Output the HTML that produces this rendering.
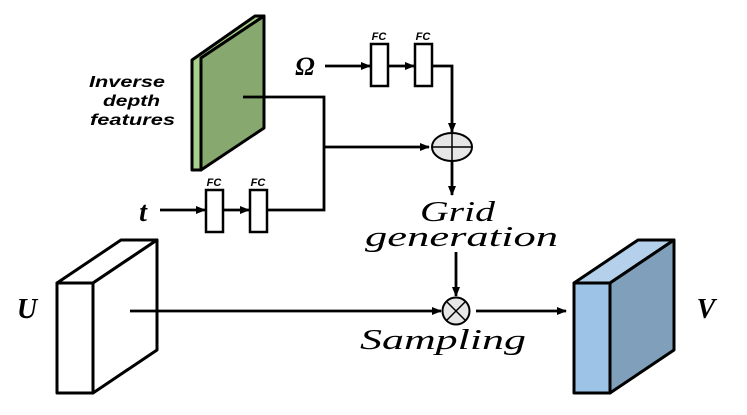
<!DOCTYPE html>
<html><head><style>body{margin:0;background:#fff}svg{display:block}</style></head><body>
<svg width="747" height="415" viewBox="0 0 747 415" xmlns="http://www.w3.org/2000/svg">
<defs><marker id="a" markerWidth="10" markerHeight="8" refX="9" refY="4" orient="auto" markerUnits="userSpaceOnUse"><path d="M0,0L10,4L0,8z" fill="#000"/></marker></defs>
<g stroke="#000" stroke-width="3" stroke-linejoin="round">
<polygon points="192,60 255,16 264,16 201,58 201,170 192,170" fill="#a9d18e"/>
<polygon points="201,58 264,16 264,128 201,170" fill="#87a96f"/>
<polygon points="57,283 121,240 157,240 93,283" fill="#fff"/>
<polygon points="93,283 157,240 157,350 93,393" fill="#fff"/>
<rect x="57" y="283" width="36" height="110" fill="#fff"/>
<polygon points="574,283 638,240 674,240 610,283" fill="#b4d0ea"/>
<polygon points="610,283 674,240 674,350 610,393" fill="#7f9fba"/>
<rect x="574" y="283" width="36" height="110" fill="#9dc3e6"/>
</g>
<g stroke="#000" stroke-width="2.5" fill="#fff">
<rect x="371" y="44" width="17" height="42"/><rect x="415" y="44" width="17" height="42"/>
<rect x="206" y="190" width="17" height="42"/><rect x="250" y="190" width="17" height="42"/>
</g>
<g stroke="#000" stroke-width="2.8" fill="none">
<polyline points="243,97 324,97 324,210 267,210"/>
<line x1="324" y1="147" x2="429" y2="147" marker-end="url(#a)"/>
<line x1="325" y1="66" x2="370" y2="66" marker-end="url(#a)"/>
<line x1="388" y1="66" x2="414" y2="66" marker-end="url(#a)"/>
<polyline points="432,66 452,66 452,132" marker-end="url(#a)"/>
<line x1="452" y1="161" x2="452" y2="195" marker-end="url(#a)"/>
<line x1="160" y1="210" x2="205" y2="210" marker-end="url(#a)"/>
<line x1="223" y1="210" x2="249" y2="210" marker-end="url(#a)"/>
<line x1="456" y1="252" x2="456" y2="296" marker-end="url(#a)"/>
<line x1="130" y1="311" x2="441" y2="311" marker-end="url(#a)"/>
<line x1="476" y1="311" x2="566" y2="311" marker-end="url(#a)"/>
</g>
<g stroke="#000" stroke-width="2" fill="#e6e6e6">
<ellipse cx="452" cy="147" rx="20" ry="14"/>
<circle cx="456" cy="311" r="13.5"/>
</g>
<g stroke="#000" stroke-width="1.5">
<line x1="432" y1="147" x2="472" y2="147"/><line x1="452" y1="133" x2="452" y2="161"/>
<line x1="446.5" y1="301.5" x2="465.5" y2="320.5"/><line x1="465.5" y1="301.5" x2="446.5" y2="320.5"/>
</g>
<g font-family="Liberation Sans, sans-serif" font-weight="bold" font-style="italic" text-anchor="middle">
<text x="379" y="40" font-size="11">FC</text><text x="423" y="40" font-size="11">FC</text>
<text x="214" y="186" font-size="11">FC</text><text x="258" y="186" font-size="11">FC</text>
</g>
<g font-family="Liberation Sans, sans-serif" font-weight="bold" font-style="italic" font-size="16" lengthAdjust="spacingAndGlyphs">
<text x="89" y="87" textLength="76" lengthAdjust="spacingAndGlyphs">Inverse</text>
<text x="103" y="106" textLength="57" lengthAdjust="spacingAndGlyphs">depth</text>
<text x="90" y="125" textLength="85" lengthAdjust="spacingAndGlyphs">features</text>
</g>
<g font-family="Liberation Serif, serif" font-weight="bold" font-style="italic" text-anchor="middle">
<text x="305" y="75" font-size="26">Ω</text>
<text x="143" y="221" font-size="28">t</text>
<text x="27" y="318" font-size="28">U</text>
<text x="706" y="318" font-size="28">V</text>
</g>
<g font-family="Liberation Serif, serif" font-style="italic" font-size="28">
<text x="420" y="221" textLength="75" lengthAdjust="spacingAndGlyphs">Grid</text>
<text x="365" y="246" textLength="193" lengthAdjust="spacingAndGlyphs">generation</text>
<text x="360" y="349" textLength="166" lengthAdjust="spacingAndGlyphs">Sampling</text>
</g>
</svg>
</body></html>
